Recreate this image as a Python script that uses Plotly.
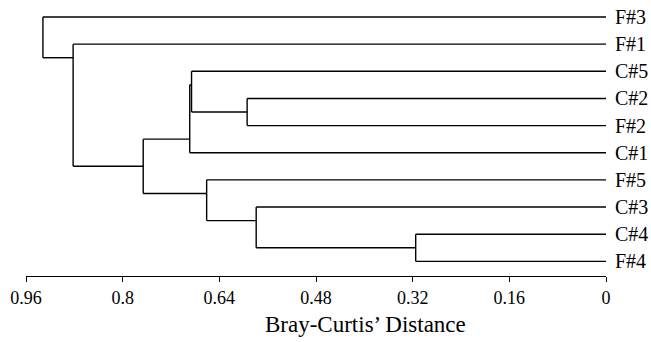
import plotly.graph_objects as go

# Leaves in display order (top to bottom)
leaves = ["F#3", "F#1", "C#5", "C#2", "F#2", "C#1", "F#5", "C#3", "C#4", "F#4"]

# Merges: node ids 0..9 are leaves, new nodes numbered from 10 upward in order
merge_left = ["C#4", "C#3", "C#2", "F#5", "C#5", 14, 15, "F#1", "F#3"]
merge_right = ["F#4", 10, "F#2", 11, 12, "C#1", 13, 16, 17]
merge_dist = [0.315, 0.579, 0.594, 0.661, 0.686, 0.689, 0.766, 0.882, 0.932]

tick_vals = [0.96, 0.8, 0.64, 0.48, 0.32, 0.16, 0]
tick_text = ["0.96", "0.8", "0.64", "0.48", "0.32", "0.16", "0"]

x_title = "Bray-Curtis’ Distance"

# ---- build dendrogram geometry ----
nodes = {}  # id -> dict(x, y, first, last)
for i, name in enumerate(leaves):
    nodes[i] = dict(x=0.0, y=float(i), first=i, last=i)


def nid(v):
    return leaves.index(v) if isinstance(v, str) else v


xs, ys = [], []
for k, (a, b, d) in enumerate(zip(merge_left, merge_right, merge_dist)):
    na, nb = nodes[nid(a)], nodes[nid(b)]
    top, bot = (na, nb) if na["first"] < nb["first"] else (nb, na)
    y_node = (top["last"] + bot["first"]) / 2.0
    nodes[len(leaves) + k] = dict(x=d, y=y_node, first=top["first"], last=bot["last"])
    for ch in (na, nb):
        xs += [ch["x"], d, None]
        ys += [ch["y"], ch["y"], None]
    xs += [d, d, None]
    ys += [na["y"], nb["y"], None]

fig = go.Figure()
fig.add_trace(go.Scatter(x=xs, y=ys, mode="lines",
                         line=dict(color="black", width=1.4),
                         cliponaxis=False, hoverinfo="skip", showlegend=False))

font_family = "Liberation Serif, Times New Roman, serif"
fig.update_layout(
    width=651, height=342,
    margin=dict(l=26, r=45, t=0, b=66),
    paper_bgcolor="white", plot_bgcolor="white",
    font=dict(family=font_family, color="black", size=18),
    xaxis=dict(range=[0.96, 0], tickvals=tick_vals, ticktext=tick_text,
               showline=True, linecolor="black", linewidth=1.4,
               ticks="outside", ticklen=5, tickwidth=1.4, tickcolor="black",
               showgrid=False, zeroline=False,
               tickfont=dict(size=18, family=font_family)),
    yaxis=dict(range=[9.54, -0.626], side="right",
               tickvals=list(range(len(leaves))), ticktext=leaves,
               showline=False, showgrid=False, zeroline=False,
               ticks="outside", ticklen=4, tickcolor="rgba(0,0,0,0)",
               tickfont=dict(size=20, family=font_family)),
    annotations=[dict(text=x_title, xref="paper", yref="paper",
                      x=0.586, y=0, xanchor="center", yanchor="middle",
                      yshift=-48, showarrow=False,
                      font=dict(size=23, family=font_family, color="black"))],
)

fig.write_html("out.html")
